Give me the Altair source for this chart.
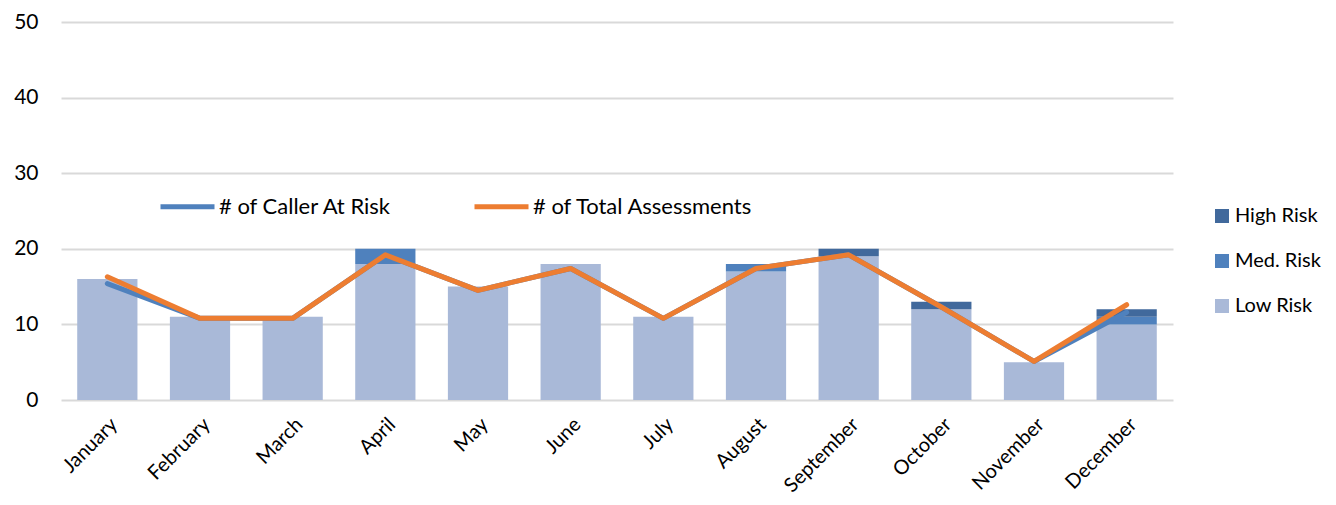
import altair as alt
import pandas as pd

months = ["January", "February", "March", "April", "May", "June", "July",
          "August", "September", "October", "November", "December"]
low_risk = [16, 11, 11, 18, 15, 18, 11, 17, 19, 12, 5, 10]
med_risk = [0, 0, 0, 2, 0, 0, 0, 1, 0, 0, 0, 1]
high_risk = [0, 0, 0, 0, 0, 0, 0, 0, 1, 1, 0, 1]
caller_at_risk = [15.4, 10.8, 10.8, 19.2, 14.5, 17.4, 10.8, 17.4, 19.2, 12.3, 5.1, 11.6]
total_assessments = [16.3, 10.8, 10.8, 19.2, 14.5, 17.4, 10.8, 17.4, 19.2, 12.3, 5.1, 12.6]

risk_names = ["High Risk", "Med. Risk", "Low Risk"]
risk_colors = ["#41699C", "#4F81BD", "#A9B9D8"]
line_names = ["# of Caller At Risk", "# of Total Assessments"]
line_colors = ["#4F81BD", "#ED7D31"]

rows = []
for i, m in enumerate(months):
    rows.append({"month": m, "risk": "Low Risk", "ord": 0, "value": low_risk[i]})
    rows.append({"month": m, "risk": "Med. Risk", "ord": 1, "value": med_risk[i]})
    rows.append({"month": m, "risk": "High Risk", "ord": 2, "value": high_risk[i]})
bars_df = pd.DataFrame(rows)

lrows = []
for i, m in enumerate(months):
    lrows.append({"month": m, "series": line_names[0], "value": caller_at_risk[i]})
    lrows.append({"month": m, "series": line_names[1], "value": total_assessments[i]})
lines_df = pd.DataFrame(lrows)

FONT = "Lato"

x_enc = alt.X("month:N", sort=months, title=None,
              scale=alt.Scale(paddingInner=0.35, paddingOuter=0.175),
              axis=alt.Axis(labelAngle=-45, labelFontSize=20, labelColor="#000000",
                            labelFont=FONT, ticks=False, domain=False, grid=False,
                            labelPadding=14, labelLimit=0))

bars = alt.Chart(bars_df).mark_bar().encode(
    x=x_enc,
    y=alt.Y("value:Q", stack="zero", title=None,
            scale=alt.Scale(domain=[0, 50]),
            axis=alt.Axis(values=[0, 10, 20, 30, 40, 50], ticks=False, domain=False,
                          grid=True, gridColor="#D9D9D9", gridWidth=2,
                          labelFontSize=21, labelFont=FONT, labelColor="#000000",
                          labelPadding=23, minExtent=48, maxExtent=48)),
    color=alt.Color("risk:N", title=None,
                    scale=alt.Scale(domain=risk_names, range=risk_colors),
                    legend=alt.Legend(orient="none", legendX=1151, legendY=184,
                                      symbolType="square", symbolSize=196,
                                      symbolStrokeWidth=0,
                                      labelFontSize=20, labelFont=FONT,
                                      labelColor="#000000", rowPadding=25,
                                      labelOffset=3, padding=0, labelLimit=0)),
    order=alt.Order("ord:Q", sort="ascending"),
)

lines = alt.Chart(lines_df).mark_line(strokeWidth=5, strokeCap="round",
                                      strokeJoin="round").encode(
    x=alt.X("month:N", sort=months),
    y=alt.Y("value:Q"),
    stroke=alt.Stroke("series:N", title=None,
                      scale=alt.Scale(domain=line_names, range=line_colors),
                      legend=alt.Legend(orient="none", legendX=97, legendY=155,
                                        direction="horizontal", columns=2,
                                        symbolType="stroke", symbolSize=2916,
                                        symbolStrokeWidth=5,
                                        labelFontSize=22, labelFont=FONT,
                                        labelColor="#000000", labelOffset=2,
                                        columnPadding=72, padding=0, labelLimit=0)),
)

chart = alt.layer(bars, lines).resolve_scale(color="independent").properties(
    width=1112, height=378,
    autosize=alt.AutoSizeParams(type="none"),
    padding={"left": 53, "top": 14, "right": 155, "bottom": 97},
).configure(background="white").configure_view(strokeWidth=0, stroke="transparent")

chart.save("out.html", embed_options={"renderer": "svg", "actions": False})
